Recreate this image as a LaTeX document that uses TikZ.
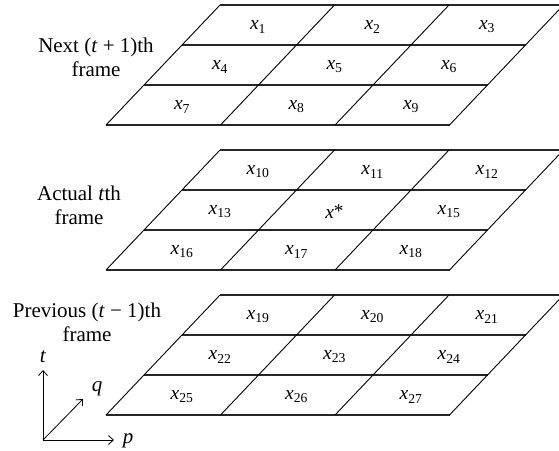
\documentclass[tikz,border=0pt]{standalone}
\usepackage{fontspec}
\setmainfont{Liberation Serif}
\usetikzlibrary{arrows.meta}

\begin{document}
\begin{tikzpicture}[x=1pt, y=-1pt, >={Straight Barb[length=5pt, width=9pt]},
  hline/.style={line width=1.3pt, draw=black!85},
  dline/.style={line width=0.9pt},
  cell/.style={font=\fontsize{19.5}{22}\selectfont, inner sep=0pt},
  framelbl/.style={align=center, font=\fontsize{21}{24}\selectfont, inner sep=0pt},
  axis/.style={->, line width=0.8pt}]
  \useasboundingbox (0,0) rectangle (559,450);
  % three frames, from t+1 (top) down to t-1
  \foreach \k/\first in {0/1, 1/10, 2/19} {
    \pgfmathsetmacro{\ytop}{5+145*\k}
    \foreach \r in {0,...,3}
      \draw[hline] ({220-38*\r}, {\ytop+40*\r}) -- ++(343.5,0);
    \foreach \c in {0,...,3}
      \draw[dline] ({220+114.5*\c}, \ytop) -- ++(-114,120);
    \foreach \r in {0,1,2}
      \foreach \c in {0,1,2} {
        \pgfmathtruncatemacro{\n}{\first+3*\r+\c}
        \node[cell] (x\n) at ({258+114.5*\c-38*\r}, {\ytop+22+40*\r})
          {\ifnum\n=14 \textit{x}\raisebox{0.1ex}{*}\else\textit{x}\textsubscript{\n}\fi};
      }
  }
  \node[framelbl] (next) at (96,57) {Next (\textit{t} + 1)th\\frame};
  \node[framelbl] (actual) at (79,205) {Actual \textit{t}th\\frame};
  \node[framelbl] (prev) at (87,322) {Previous (\textit{t} − 1)th\\frame};
  % axes
  \coordinate (o) at (43,440);
  \coordinate (tend) at (43,370);
  \coordinate (qend) at (83,399);
  \coordinate (pend) at (114,440);
  \node[framelbl] (t) at (43,357) {\textit{t}};
  \node[framelbl] (q) at (97,389) {\textit{q}};
  \node[framelbl] (p) at (128,441) {\textit{p}};
  \draw[axis] (o) -- (tend);
  \draw[axis] (o) -- (qend);
  \draw[axis] (o) -- (pend);
\end{tikzpicture}
\end{document}
